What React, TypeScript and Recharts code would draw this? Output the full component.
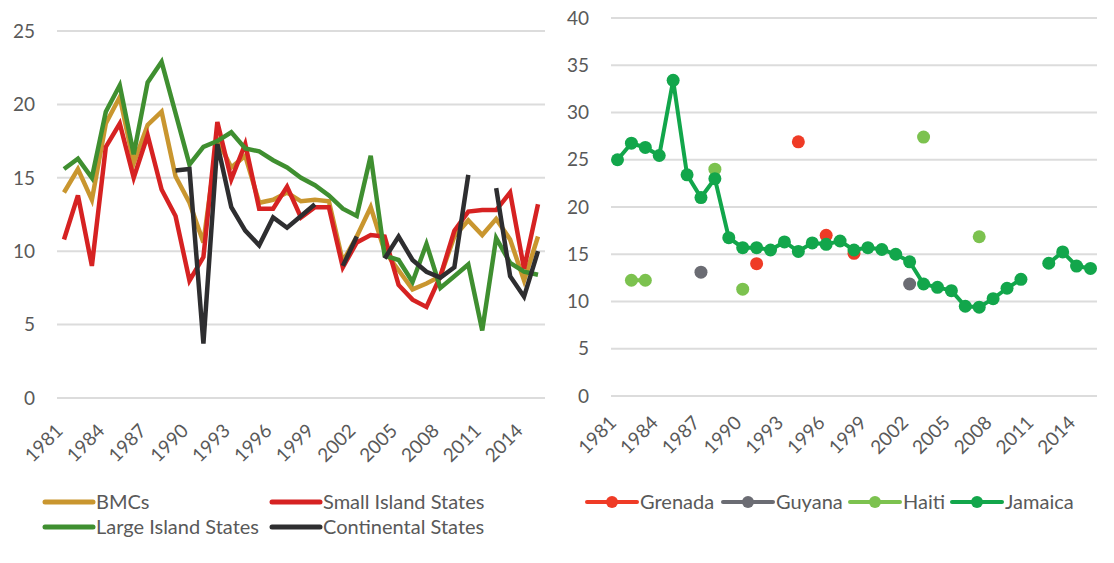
import React from "react";
import { LineChart, Line, XAxis, YAxis, CartesianGrid } from "recharts";

// years along the x axis
const years = [
  "1981", "1982", "1983", "1984", "1985", "1986", "1987", "1988", "1989", "1990",
  "1991", "1992", "1993", "1994", "1995", "1996", "1997", "1998", "1999", "2000",
  "2001", "2002", "2003", "2004", "2005", "2006", "2007", "2008", "2009", "2010",
  "2011", "2012", "2013", "2014", "2015",
];

// left panel
const bmcs = [
  14.0, 15.6, 13.5, 18.7, 20.5, 16.0, 18.6, 19.5, 15.1, 13.3,
  10.6, 17.6, 15.7, 16.5, 13.3, 13.5, 14.0, 13.4, 13.5, 13.4,
  9.3, 11.0, 13.0, 10.0, 8.7, 7.4, 7.8, 8.3, 11.0, 12.1,
  11.1, 12.2, 10.8, 8.0, 11.0,
];
const smallIsland = [
  10.8, 13.8, 9.0, 17.1, 18.7, 15.0, 17.9, 14.2, 12.4, 8.0,
  9.6, 18.8, 14.9, 17.3, 12.9, 12.9, 14.4, 12.3, 13.0, 13.0,
  8.9, 10.6, 11.1, 11.0, 7.7, 6.7, 6.2, 8.3, 11.4, 12.7,
  12.8, 12.8, 14.0, 8.8, 13.2,
];
const largeIsland = [
  15.6, 16.3, 15.0, 19.5, 21.3, 16.6, 21.5, 22.9, 19.4, 15.9,
  17.1, 17.5, 18.1, 17.0, 16.8, 16.2, 15.7, 15.0, 14.5, 13.8,
  12.9, 12.4, 16.5, 9.7, 9.4, 7.9, 10.5, 7.5, 8.3, 9.1,
  4.6, 10.9, 9.2, 8.6, 8.4,
];
const continental = [
  null, null, null, null, null, null, null, null, 15.5, 15.6,
  3.7, 17.3, 13.0, 11.4, 10.4, 12.3, 11.6, 12.4, 13.2, null,
  9.0, 11.0, null, 9.5, 11.0, 9.4, 8.6, 8.2, 8.9, 15.2,
  null, 14.3, 8.3, 6.9, 10.0,
];

// right panel
const grenada = [
  null, null, null, null, null, null, null, null, null, null,
  14.0, null, null, 26.9, null, 17.0, null, 15.1, null, null,
  null, null, null, null, null, null, null, null, null, null,
  null, null, null, null, null,
];
const guyana = [
  null, null, null, null, null, null, 13.1, null, null, null,
  null, null, null, null, null, null, null, null, null, null,
  null, 11.85, null, null, null, null, null, null, null, null,
  null, null, null, null, null,
];
const haiti = [
  null, 12.25, 12.25, null, null, null, null, 24.0, null, 11.3,
  null, null, null, null, null, null, null, null, null, null,
  null, null, 27.4, null, null, null, 16.85, null, null, null,
  null, null, null, null, null,
];
const jamaica = [
  25.0, 26.75, 26.3, 25.45, 33.4, 23.4, 21.0, 23.0, 16.75, 15.7,
  15.7, 15.45, 16.3, 15.3, 16.2, 16.05, 16.4, 15.45, 15.7, 15.5,
  15.0, 14.2, 11.85, 11.5, 11.15, 9.5, 9.4, 10.3, 11.4, 12.35,
  null, 14.05, 15.25, 13.75, 13.5,
];

const leftTicks = [0, 5, 10, 15, 20, 25];
const rightTicks = [0, 5, 10, 15, 20, 25, 30, 35, 40];

const leftData = years.map((year, i) => ({
  year,
  bmcs: bmcs[i],
  small: smallIsland[i],
  large: largeIsland[i],
  cont: continental[i],
}));

const rightData = years.map((year, i) => ({
  year,
  grenada: grenada[i],
  guyana: guyana[i],
  haiti: haiti[i],
  jamaica: jamaica[i],
}));

const FONT = "Lato, 'Open Sans', sans-serif";
const TEXT = "#595959";
const GRID = "#dcdcdc";

const C = {
  bmcs: "#c9962f",
  small: "#d62222",
  large: "#3f8f30",
  cont: "#2e2e30",
  grenada: "#ef3b26",
  guyana: "#6b6c73",
  haiti: "#7cc24f",
  jamaica: "#12a64b",
};

const YearTick = (props: any) => {
  const { x, y, payload, drop } = props;
  return (
    <g transform={`translate(${x},${y + drop}) rotate(-45)`}>
      <text x={0} y={0} textAnchor="end" fill={TEXT} fontSize={19} fontFamily={FONT}>
        {payload.value}
      </text>
    </g>
  );
};

const yTick = { fill: TEXT, fontSize: 19, fontFamily: FONT };

function LeftPanel() {
  return (
    <LineChart
      width={560}
      height={563}
      data={leftData}
      margin={{ top: 31, right: 15, bottom: 105, left: 0 }}
    >
      <CartesianGrid vertical={false} stroke={GRID} strokeWidth={2} />
      <XAxis
        dataKey="year"
        interval={2}
        padding={{ left: 7, right: 7 }}
        axisLine={false}
        tickLine={false}
        tickSize={0}
        tickMargin={0}
        height={60}
        tick={<YearTick drop={34} />}
      />
      <YAxis
        domain={[0, 25]}
        ticks={leftTicks}
        width={57}
        axisLine={false}
        tickLine={false}
        tickMargin={16}
        tick={yTick}
      />
      <Line dataKey="bmcs" stroke={C.bmcs} strokeWidth={4.5} dot={false} isAnimationActive={false} />
      <Line dataKey="small" stroke={C.small} strokeWidth={4.5} dot={false} isAnimationActive={false} />
      <Line dataKey="large" stroke={C.large} strokeWidth={4.5} dot={false} isAnimationActive={false} />
      <Line dataKey="cont" stroke={C.cont} strokeWidth={4.5} dot={false} isAnimationActive={false} />
    </LineChart>
  );
}

const dotFor = (color: string) => ({ r: 6.5, fill: color, stroke: color, strokeWidth: 0 });

function RightPanel() {
  return (
    <LineChart
      width={560}
      height={563}
      data={rightData}
      margin={{ top: 18, right: 17, bottom: 107, left: 0 }}
    >
      <CartesianGrid vertical={false} stroke={GRID} strokeWidth={2} />
      <XAxis
        dataKey="year"
        interval={2}
        padding={{ left: 6.5, right: 6.5 }}
        axisLine={false}
        tickLine={false}
        tickSize={0}
        tickMargin={0}
        height={60}
        tick={<YearTick drop={28} />}
      />
      <YAxis
        domain={[0, 40]}
        ticks={rightTicks}
        width={57}
        axisLine={false}
        tickLine={false}
        tickMargin={16}
        tick={yTick}
      />
      <Line dataKey="grenada" stroke={C.grenada} strokeWidth={4} dot={dotFor(C.grenada)} isAnimationActive={false} />
      <Line dataKey="guyana" stroke={C.guyana} strokeWidth={4} dot={dotFor(C.guyana)} isAnimationActive={false} />
      <Line dataKey="haiti" stroke={C.haiti} strokeWidth={4} dot={dotFor(C.haiti)} isAnimationActive={false} />
      <Line dataKey="jamaica" stroke={C.jamaica} strokeWidth={4} dot={dotFor(C.jamaica)} isAnimationActive={false} />
    </LineChart>
  );
}

const leftLegend = [
  { name: "BMCs", color: C.bmcs, x: 45, y: 502 },
  { name: "Small Island States", color: C.small, x: 272, y: 502 },
  { name: "Large Island States", color: C.large, x: 45, y: 527 },
  { name: "Continental States", color: C.cont, x: 272, y: 527 },
];

const rightLegend = [
  { name: "Grenada", color: C.grenada, x: 587 },
  { name: "Guyana", color: C.guyana, x: 723 },
  { name: "Haiti", color: C.haiti, x: 850 },
  { name: "Jamaica", color: C.jamaica, x: 952 },
];

function Legends() {
  return (
    <svg width={1114} height={563} style={{ position: "absolute", left: 0, top: 0, pointerEvents: "none" }}>
      {leftLegend.map((d) => (
        <g key={d.name}>
          <line x1={d.x} x2={d.x + 48} y1={d.y} y2={d.y} stroke={d.color} strokeWidth={5} strokeLinecap="round" />
          <text x={d.x + 51} y={d.y + 7} fill={TEXT} fontSize={20} fontFamily={FONT}>
            {d.name}
          </text>
        </g>
      ))}
      {rightLegend.map((d) => (
        <g key={d.name}>
          <line x1={d.x} x2={d.x + 50} y1={502} y2={502} stroke={d.color} strokeWidth={4} strokeLinecap="round" />
          <circle cx={d.x + 25} cy={502} r={6} fill={d.color} />
          <text x={d.x + 53} y={509} fill={TEXT} fontSize={20} fontFamily={FONT}>
            {d.name}
          </text>
        </g>
      ))}
    </svg>
  );
}

export default function App() {
  return (
    <div style={{ position: "absolute", left: 0, top: 0, width: 1114, height: 563, background: "#fff" }}>
      <div style={{ position: "absolute", left: 0, top: 0 }}>
        <LeftPanel />
      </div>
      <div style={{ position: "absolute", left: 554, top: 0 }}>
        <RightPanel />
      </div>
      <Legends />
    </div>
  );
}
